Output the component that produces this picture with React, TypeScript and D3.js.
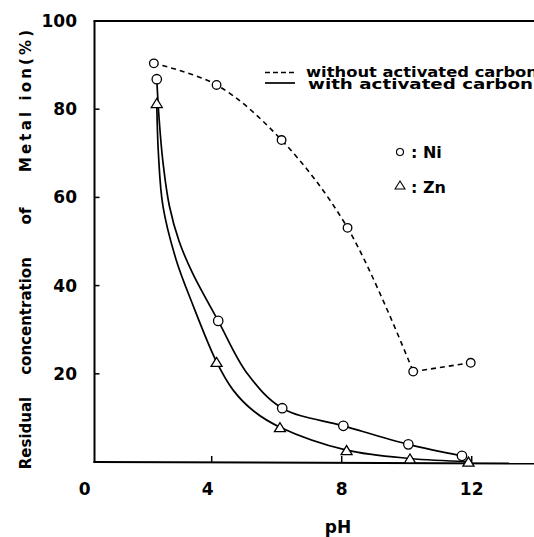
import React from "react";
import * as d3 from "d3";

// pH ticks and concentration ticks
const xTicks = [0, 4, 8, 12];
const yTicks = [20, 40, 60, 80, 100];

// Without activated carbon (Ni) – markers
const niWithoutPH = [2.22, 4.15, 6.15, 8.18, 10.2, 11.97];
const niWithoutVal = [90.4, 85.5, 73.0, 53.1, 20.5, 22.5];

// With activated carbon – markers
const niWithPH = [2.31, 4.2, 6.17, 8.05, 10.05, 11.7];
const niWithVal = [86.8, 32.0, 12.2, 8.2, 4.0, 1.4];
const znWithPH = [2.31, 4.15, 6.1, 8.15, 10.1, 11.9];
const znWithVal = [81.4, 22.7, 7.9, 2.7, 0.8, 0.1];

// Traced smooth curves
const niCurvePH = [2.31, 2.38, 2.5, 2.7, 3.0, 3.4, 4.2, 5.1, 6.17, 8.05, 10.05, 11.7];
const niCurveVal = [86.8, 78, 68, 58, 50, 43, 32.0, 20, 12.2, 8.2, 4.0, 1.4];
const znCurvePH = [2.31, 2.36, 2.5, 2.9, 3.4, 4.15, 4.66, 5.3, 6.1, 8.15, 10.1, 11.9];
const znCurveVal = [81.4, 70, 58, 46, 36, 22.7, 16.3, 11.5, 7.9, 2.7, 0.8, 0.1];

const legendLines = ["without activated carbon", "with  activated carbon"];
const markerLegend = [": Ni", ": Zn"];
const yTitleWords = ["Residual", "concentration", "of", "Metal ion(%)"];

const W = 534;
const H = 537;
const FONT = "'DejaVu Sans', sans-serif";

export default function App() {
  const x = d3.scaleLinear().domain([0, 14]).range([81.7, 81.7 + 14 * 32.5]);
  const y = d3.scaleLinear().domain([0, 100]).range([462, 21]);

  const axisX = 94.5;
  const topY = y(100);
  const botY = y(0);

  const curve = d3
    .line<[number, number]>()
    .x((d) => x(d[0]))
    .y((d) => y(d[1]))
    .curve(d3.curveCatmullRom.alpha(0.5));
  const straight = d3
    .line<[number, number]>()
    .x((d) => x(d[0]))
    .y((d) => y(d[1]));

  const zip = (a: number[], b: number[]) => a.map((v, i) => [v, b[i]] as [number, number]);
  const dashedPts = zip(niWithoutPH, niWithoutVal);
  const niCurve = zip(niCurvePH, niCurveVal);
  const znCurve = zip(znCurvePH, znCurveVal);

  const tri = (cx: number, cy: number, w: number, h: number) =>
    `M${cx - w / 2},${cy + h / 2}L${cx},${cy - h / 2}L${cx + w / 2},${cy + h / 2}Z`;

  // y-title word placement along the vertical: [position, anchor, length]
  const titlePos: [number, string, number | undefined][] = [
    [433, "middle", undefined],
    [316, "middle", undefined],
    [216, "middle", undefined],
    [30, "end", 142],
  ];

  return (
    <svg
      width={W}
      height={H}
      style={{ position: "absolute", left: 0, top: 0, background: "#fff" }}
      fontFamily={FONT}
    >
      <rect x={0} y={0} width={W} height={H} fill="#fff" />
      {/* frame */}
      <g stroke="#000" strokeWidth={2} fill="none">
        <line x1={axisX} y1={topY} x2={axisX} y2={botY + 1} />
        <line x1={axisX - 1} y1={topY} x2={W} y2={topY} />
        <line x1={axisX - 1} y1={botY} x2={W} y2={botY + 1.5} />
      </g>
      {/* y ticks */}
      {yTicks
        .filter((t) => t < 100)
        .map((t) => (
          <line key={"yt" + t} x1={axisX} x2={axisX + 5} y1={y(t)} y2={y(t)} stroke="#000" strokeWidth={1.5} />
        ))}
      {yTicks.map((t) => (
        <text
          key={"yl" + t}
          x={77}
          y={y(t)}
          textAnchor="end"
          dominantBaseline="central"
          fontSize={17}
          fontWeight="bold"
        >
          {t}
        </text>
      ))}
      {/* x ticks */}
      {xTicks
        .filter((t) => t > 0)
        .map((t) => (
          <line key={"xt" + t} x1={x(t)} x2={x(t)} y1={botY} y2={botY - 6} stroke="#000" strokeWidth={1.5} />
        ))}
      {xTicks.map((t) => (
        <text
          key={"xl" + t}
          x={x(t) + (t === 0 ? 3 : t === 4 ? -4 : 0)}
          y={489}
          textAnchor="middle"
          dominantBaseline="central"
          fontSize={17}
          fontWeight="bold"
        >
          {t}
        </text>
      ))}
      <text x={338} y={527} textAnchor="middle" dominantBaseline="central" fontSize={17} fontWeight="bold">
        pH
      </text>
      {/* y title */}
      {yTitleWords.map((w, i) => {
        const [p, anchor, len] = titlePos[i];
        return (
          <text
            key={"yw" + i}
            transform={`translate(31,${p}) rotate(-90)`}
            textAnchor={anchor}
            fontSize={15}
            fontWeight="bold"
            textLength={len}
            lengthAdjust={len ? "spacing" : undefined}
          >
            {w}
          </text>
        );
      })}

      {/* dashed curve: without activated carbon */}
      <g fill="none" stroke="#000" strokeWidth={1.6} strokeDasharray="5,4">
        <path d={curve(dashedPts.slice(0, 5)) || ""} />
        <path d={straight(dashedPts.slice(4)) || ""} />
      </g>
      {/* solid curves */}
      <g fill="none" stroke="#000" strokeWidth={1.7}>
        <path d={curve(niCurve) || ""} />
        <path d={curve(znCurve) || ""} />
      </g>

      {/* markers */}
      {dashedPts.map((p, i) => (
        <circle key={"dw" + i} cx={x(p[0])} cy={y(p[1])} r={4.3} fill="#fff" stroke="#000" strokeWidth={1.3} />
      ))}
      {niWithPH.map((p, i) => (
        <circle key={"nw" + i} cx={x(p)} cy={y(niWithVal[i])} r={4.7} fill="#fff" stroke="#000" strokeWidth={1.3} />
      ))}
      {znWithPH.map((p, i) => (
        <path key={"zw" + i} d={tri(x(p), y(znWithVal[i]), 11, 9)} fill="#fff" stroke="#000" strokeWidth={1.3} />
      ))}

      {/* legend */}
      <line x1={265} x2={297} y1={72.5} y2={72.5} stroke="#000" strokeWidth={1.5} strokeDasharray="5,3" />
      <line x1={265} x2={295} y1={83} y2={83} stroke="#000" strokeWidth={1.7} />
      <text x={306} y={77} fontSize={14.5} fontWeight="bold" textLength={232} lengthAdjust="spacingAndGlyphs">
        {legendLines[0]}
      </text>
      <text x={308} y={89} fontSize={14.5} fontWeight="bold" textLength={225} lengthAdjust="spacingAndGlyphs">
        {legendLines[1]}
      </text>

      <circle cx={400} cy={152} r={3.5} fill="#fff" stroke="#000" strokeWidth={1.2} />
      <text x={411} y={158} fontSize={16} fontWeight="bold">
        {markerLegend[0]}
      </text>
      <path d={tri(400, 185, 10, 8)} fill="#fff" stroke="#000" strokeWidth={1.1} />
      <text x={411} y={192.5} fontSize={16} fontWeight="bold">
        {markerLegend[1]}
      </text>
    </svg>
  );
}
